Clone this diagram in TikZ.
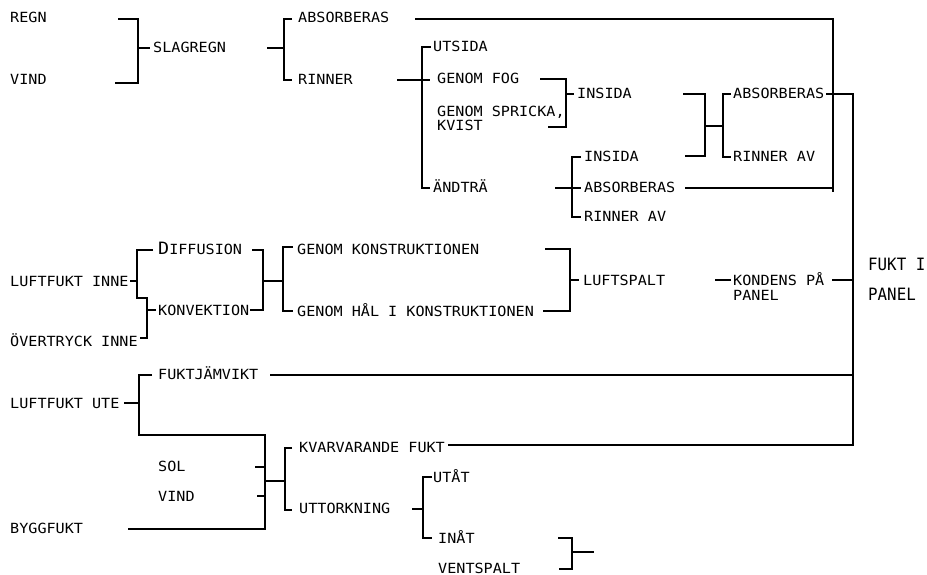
\documentclass[tikz,border=0pt]{standalone}
\usepackage{fontspec}
\newfontfamily\tw[FakeStretch=1.08]{DejaVu Sans Mono}
\newfontfamily\twn[FakeStretch=0.93]{DejaVu Sans Mono}
\begin{document}
\begin{tikzpicture}[x=1pt,y=-1pt,
  lbl/.style={anchor=base west,inner sep=0pt,yshift=-5pt,font=\tw\fontsize{14pt}{16pt}\selectfont},
  big/.style={anchor=base west,inner sep=0pt,yshift=-6pt,font=\twn\fontsize{17pt}{19pt}\selectfont},
  ln/.style={line width=1.2pt,black}]
\useasboundingbox (0,0) rectangle (927,575);
% texts
\node[lbl] (regn) at (10,18) {REGN};
\node[lbl] (vind1) at (10,80) {VIND};
\node[lbl] (slag) at (153,48) {SLAGREGN};
\node[lbl] (abs1) at (298,18) {ABSORBERAS};
\node[lbl] (rinner) at (298,80) {RINNER};
\node[lbl] (utsida) at (433,47) {UTSIDA};
\node[lbl] (fog) at (437,79) {GENOM FOG};
\node[lbl] (spricka) at (437,112) {GENOM SPRICKA,};
\node[lbl] (kvist) at (437,126) {KVIST};
\node[lbl] (insida1) at (577,94) {INSIDA};
\node[lbl] (andtra) at (433,188) {ÄNDTRÄ};
\node[lbl] (insida2) at (584,157) {INSIDA};
\node[lbl] (abs2) at (584,188) {ABSORBERAS};
\node[lbl] (rinav1) at (584,217) {RINNER AV};
\node[lbl] (abs3) at (733,94) {ABSORBERAS};
\node[lbl] (rinav2) at (733,157) {RINNER AV};
\node[lbl] (lfinne) at (10,281) {LUFTFUKT INNE};
\node[lbl] (diff) at (158,249) {{\fontsize{17pt}{19pt}\selectfont D}IFFUSION};
\node[lbl] (konv) at (158,310) {KONVEKTION};
\node[lbl] (overtr) at (10,341) {ÖVERTRYCK INNE};
\node[lbl] (gkonst) at (297,249) {GENOM KONSTRUKTIONEN};
\node[lbl] (ghal) at (297,311) {GENOM HÅL I KONSTRUKTIONEN};
\node[lbl] (luftspalt) at (583,280) {LUFTSPALT};
\node[lbl] (kondens) at (733,280) {KONDENS PÅ};
\node[lbl] (kpanel) at (733,295) {PANEL};
\node[big] (fukti) at (868,264) {FUKT I};
\node[big] (fpanel) at (868,294) {PANEL};
\node[lbl] (fuktjam) at (158,374) {FUKTJÄMVIKT};
\node[lbl] (lfute) at (10,403) {LUFTFUKT UTE};
\node[lbl] (kvarv) at (299,447) {KVARVARANDE FUKT};
\node[lbl] (sol) at (158,466) {SOL};
\node[lbl] (vind2) at (158,496) {VIND};
\node[lbl] (bygg) at (10,528) {BYGGFUKT};
\node[lbl] (uttork) at (299,508) {UTTORKNING};
\node[lbl] (utat) at (433,477) {UTÅT};
\node[lbl] (inat) at (438,538) {INÅT};
\node[lbl] (ventspalt) at (438,568) {VENTSPALT};
% connectors
\draw[ln] (118,19)--(138,19)--(138,83)--(115,83);
\draw[ln] (138,48)--(150,48);
\draw[ln] (267,48)--(284,48);
\draw[ln] (292,19)--(284,19)--(284,80)--(292,80);
\draw[ln] (415,19)--(833,19)--(833,192);
\draw[ln] (685,188)--(833,188);
\draw[ln] (826,94)--(853,94)--(853,445)--(448,445);
\draw[ln] (270,375)--(853,375);
\draw[ln] (832,280)--(853,280);
\draw[ln] (715,280)--(731,280);
\draw[ln] (397,80)--(430,80);
\draw[ln] (431,47)--(422,47)--(422,188)--(430,188);
\draw[ln] (540,79)--(566,79)--(566,127)--(548,127);
\draw[ln] (566,94)--(574,94);
\draw[ln] (683,94)--(705,94)--(705,156)--(685,156);
\draw[ln] (705,126)--(723,126);
\draw[ln] (731,94)--(723,94)--(723,157)--(731,157);
\draw[ln] (555,188)--(581,188);
\draw[ln] (581,157)--(572,157)--(572,217)--(581,217);
\draw[ln] (130,281)--(137,281);
\draw[ln] (153,250)--(137,250)--(137,298)--(147,298)--(147,338)--(140,338);
\draw[ln] (147,310)--(156,310);
\draw[ln] (252,250)--(263,250)--(263,310)--(250,310);
\draw[ln] (263,281)--(283,281);
\draw[ln] (293,247)--(283,247)--(283,311)--(293,311);
\draw[ln] (545,249)--(570,249)--(570,311)--(543,311);
\draw[ln] (570,280)--(579,280);
\draw[ln] (124,403)--(139,403);
\draw[ln] (152,375)--(139,375)--(139,435)--(265,435)--(265,529)--(128,529);
\draw[ln] (255,467)--(265,467);
\draw[ln] (257,496)--(265,496);
\draw[ln] (265,481)--(285,481);
\draw[ln] (292,448)--(285,448)--(285,510)--(292,510);
\draw[ln] (412,509)--(423,509);
\draw[ln] (432,477)--(423,477)--(423,538)--(432,538);
\draw[ln] (558,538)--(572,538)--(572,569)--(559,569);
\draw[ln] (572,552)--(594,552);
\end{tikzpicture}
\end{document}
